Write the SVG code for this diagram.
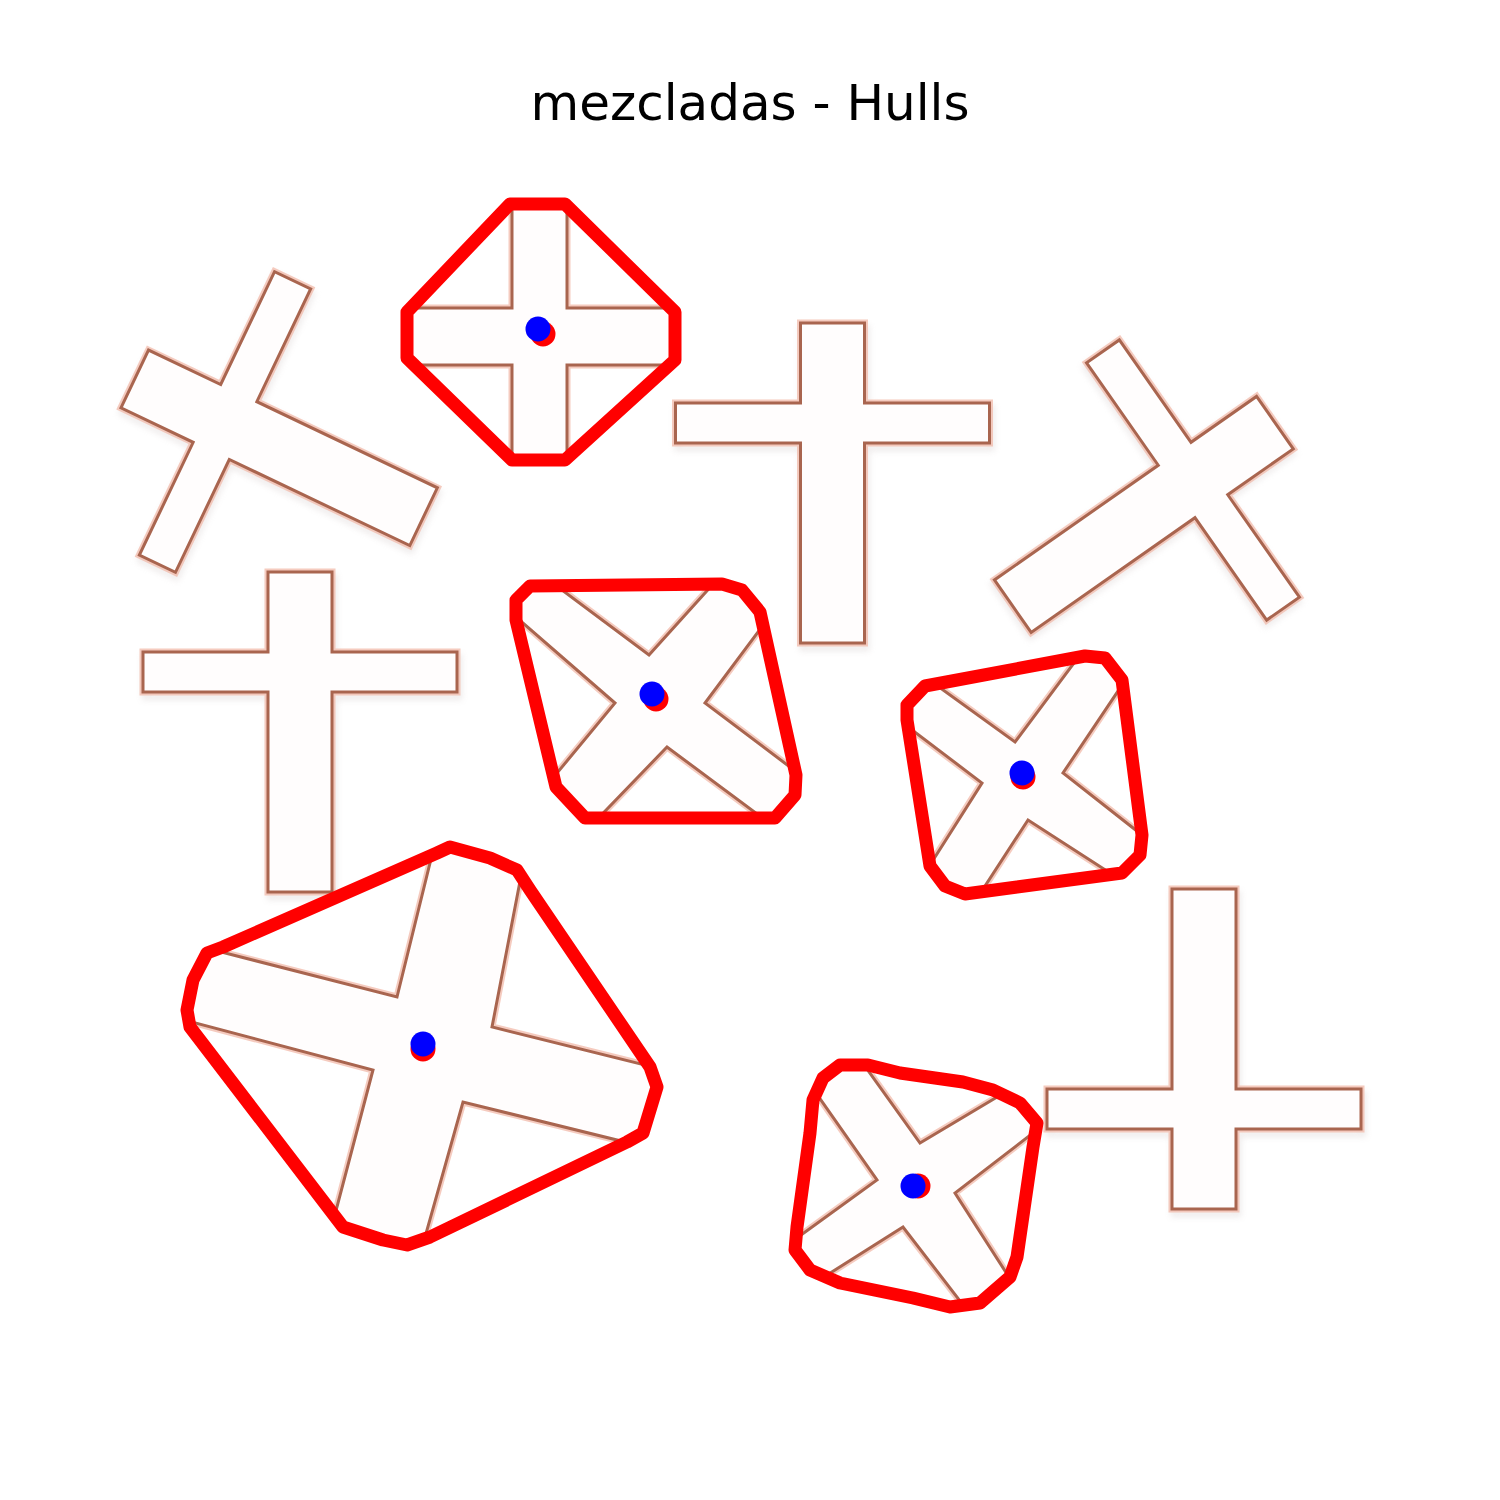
<svg xmlns="http://www.w3.org/2000/svg" width="1500" height="1500" viewBox="0 0 1500 1500">
<style>
.halo{fill:none;stroke:#f2b9aa;stroke-width:7;stroke-linejoin:miter;opacity:0.75}
.line{fill:#fffdfd;stroke:#a9654f;stroke-width:3;stroke-linejoin:miter}
.shadow{fill:none;stroke:#d8d0d0;stroke-width:6;opacity:0.45;filter:url(#blur)}
.hull{fill:none;stroke:#ff0000;stroke-width:13;stroke-linejoin:round}
.cen{fill:#ff0000}
.dot{fill:#0000ff}
.title{font-family:"DejaVu Sans",sans-serif;font-size:50px;fill:#000000}
</style>
<defs>
<filter id="blur" x="-20%" y="-20%" width="140%" height="140%"><feGaussianBlur stdDeviation="3"/></filter>
<path id="cross" d="M -32,-100 L 32,-100 L 32,-20 L 157,-20 L 157,20 L 32,20 L 32,220 L -32,220 L -32,20 L -157,20 L -157,-20 L -32,-20 Z"/>
<clipPath id="c1"><polygon points="510,204 565,204 675,312 675,360 565,460 512,460 407,358 407,312"/></clipPath>
<clipPath id="c2"><polygon points="530,586 722,584 742,590 760,612 796,775 795,795 775,818 585,818 556,787 516,620 516,600"/></clipPath>
<clipPath id="c3"><polygon points="907,705 925,686 1085,656 1105,658 1122,680 1142,835 1140,855 1122,873 965,894 945,886 930,866 907,720"/></clipPath>
<clipPath id="c4"><polygon points="437,853 450,847 490,858 517,870 530,890 650,1067 657,1087 643,1133 627,1142 430,1237 407,1245 383,1240 343,1227 330,1210 190,1027 187,1010 193,980 207,953 223,947"/></clipPath>
<clipPath id="c5"><polygon points="840,1065 868,1065 900,1073 963,1082 993,1090 1020,1103 1037,1123 1033,1147 1017,1257 1010,1277 980,1303 950,1307 913,1298 840,1283 810,1270 795,1250 797,1227 810,1133 813,1100 823,1078"/></clipPath>
</defs>
<rect width="1500" height="1500" fill="#ffffff"/>
<text class="title" x="750" y="120" text-anchor="middle">mezcladas - Hulls</text>

<g id="cross-a" transform="translate(225,422) rotate(-64.5)">
<use href="#cross" class="shadow" transform="translate(-4,3)"/>
<use href="#cross" class="halo"/>
<use href="#cross" class="line"/>
</g>
<g id="cross-b" transform="translate(832.5,423)">
<use href="#cross" class="shadow" transform="translate(2,5)"/>
<use href="#cross" class="halo"/>
<use href="#cross" class="line"/>
</g>
<g id="cross-c" transform="translate(300,672)">
<use href="#cross" class="shadow" transform="translate(2,5)"/>
<use href="#cross" class="halo"/>
<use href="#cross" class="line"/>
</g>
<g id="cross-d" transform="translate(1204,1109) rotate(180)">
<use href="#cross" class="shadow" transform="translate(-2,-5)"/>
<use href="#cross" class="halo"/>
<use href="#cross" class="line"/>
</g>
<g id="cross-e" transform="translate(1193,480) rotate(55)">
<use href="#cross" class="shadow" transform="translate(3,3)"/>
<use href="#cross" class="halo"/>
<use href="#cross" class="line"/>
</g>

<g id="hull-1">
<g clip-path="url(#c1)">
<polygon class="halo" points="512,100 567,100 567,308 780,308 780,365 567,365 567,560 512,560 512,365 300,365 300,308 512,308"/>
<polygon class="line" points="512,100 567,100 567,308 780,308 780,365 567,365 567,560 512,560 512,365 300,365 300,308 512,308"/>
</g>
<polygon class="hull" points="510,204 565,204 675,312 675,360 565,460 512,460 407,358 407,312"/>
<circle class="cen" cx="543" cy="334" r="12.5"/>
<circle class="dot" cx="538" cy="329" r="12.5"/>
</g>

<g id="hull-2">
<g clip-path="url(#c2)">
<polygon class="halo" points="649,655 761,531 799,577 705,703 851,813 823,863 667,747 555,863 509,831 615,703 447,557 483,531"/>
<polygon class="line" points="649,655 761,531 799,577 705,703 851,813 823,863 667,747 555,863 509,831 615,703 447,557 483,531"/>
</g>
<polygon class="hull" points="530,586 722,584 742,590 760,612 796,775 795,795 775,818 585,818 556,787 516,620 516,600"/>
<circle class="cen" cx="656" cy="699" r="12.5"/>
<circle class="dot" cx="652" cy="694" r="12.5"/>
</g>

<g id="hull-3">
<g clip-path="url(#c3)">
<polygon class="halo" points="1015,742 1121,600 1157,633 1063,773 1193,875 1158,904 1028,820 946,946 902,909 982,783 858,689 885,648"/>
<polygon class="line" points="1015,742 1121,600 1157,633 1063,773 1193,875 1158,904 1028,820 946,946 902,909 982,783 858,689 885,648"/>
</g>
<polygon class="hull" points="907,705 925,686 1085,656 1105,658 1122,680 1142,835 1140,855 1122,873 965,894 945,886 930,866 907,720"/>
<circle class="cen" cx="1023" cy="777" r="12.5"/>
<circle class="dot" cx="1022" cy="773" r="12.5"/>
</g>

<g id="hull-4">
<g clip-path="url(#c4)">
<polygon class="halo" points="397,997 463,729 542,767 492,1027 774,1097 771,1178 463,1102 391,1358 303,1336 373,1070 33,980 69,913"/>
<polygon class="line" points="397,997 463,729 542,767 492,1027 774,1097 771,1178 463,1102 391,1358 303,1336 373,1070 33,980 69,913"/>
</g>
<polygon class="hull" points="437,853 450,847 490,858 517,870 530,890 650,1067 657,1087 643,1133 627,1142 430,1237 407,1245 383,1240 343,1227 330,1210 190,1027 187,1010 193,980 207,953 223,947"/>
<circle class="cen" cx="423" cy="1049" r="12.5"/>
<circle class="dot" cx="423" cy="1044" r="12.5"/>
</g>

<g id="hull-5">
<g clip-path="url(#c5)">
<polygon class="halo" points="920,1143 1054,1063 1085,1093 955,1193 1041,1327 997,1349 903,1227 767,1313 747,1274 877,1180 783,1046 834,1023"/>
<polygon class="line" points="920,1143 1054,1063 1085,1093 955,1193 1041,1327 997,1349 903,1227 767,1313 747,1274 877,1180 783,1046 834,1023"/>
</g>
<polygon class="hull" points="840,1065 868,1065 900,1073 963,1082 993,1090 1020,1103 1037,1123 1033,1147 1017,1257 1010,1277 980,1303 950,1307 913,1298 840,1283 810,1270 795,1250 797,1227 810,1133 813,1100 823,1078"/>
<circle class="cen" cx="918" cy="1186" r="12.5"/>
<circle class="dot" cx="913" cy="1186" r="12.5"/>
</g>
</svg>
